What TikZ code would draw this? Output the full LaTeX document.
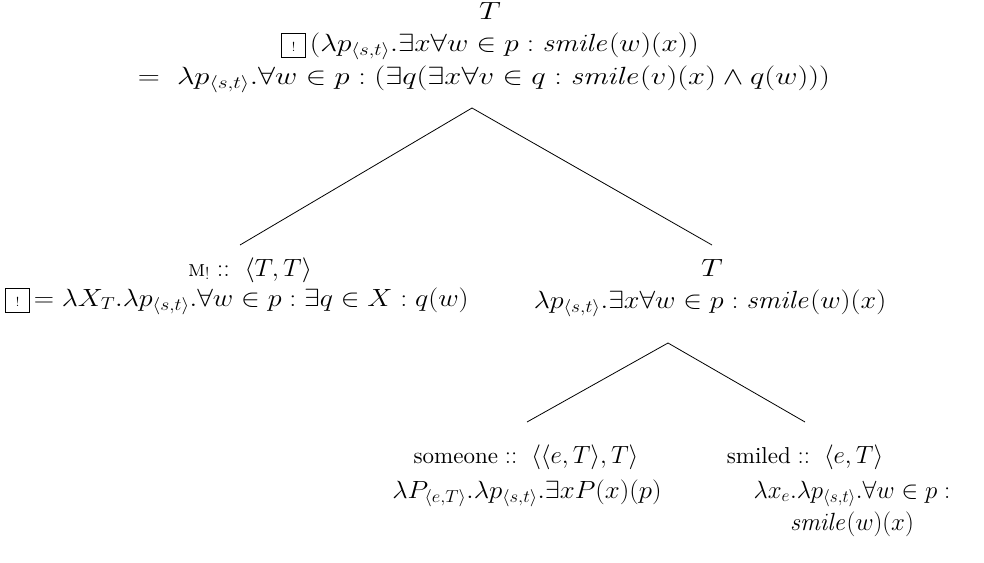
\documentclass[tikz,border=0pt]{standalone}
\usepackage{amssymb}
\usepackage{graphicx}
\newcommand\bangbox{{\setlength\fboxsep{0pt}\setlength\fboxrule{0.9pt}\fbox{\makebox[23pt]{\rule[-6pt]{0pt}{23pt}\fontsize{13}{13}\selectfont !}}}}
\newcommand\mst[2][1.23]{\scalebox{#1}[1]{$#2$}}
\newcommand\wrd[1]{\scalebox{2.3}{\fontsize{10}{12}\selectfont #1}}
\begin{document}
\begin{tikzpicture}[x=1pt,y=-1pt,
  lbl/.style={font=\fontsize{23}{27}\selectfont, inner sep=0pt, anchor=base},
  branch/.style={line width=0.8pt}]
\useasboundingbox (0,0) rectangle (984,562);
% root
\node[lbl] (rootT) at (490,19) {\mst{T}};
\node[lbl] (root2) at (490,51) {\bangbox\,\mst[1.18]{(\lambda p_{\langle s,t\rangle}.\exists x\forall w\in p:\mathit{smile}(w)(x))}};
\node[lbl] (root3) at (484,84) {\mst{=\ \lambda p_{\langle s,t\rangle}.\forall w\in p:(\exists q(\exists x\forall v\in q:\mathit{smile}(v)(x)\wedge q(w)))}};
% left child
\node[lbl] (mtype) at (250,276) {\wrd{\textsc{m}}$_{!}$ \mst[1.05]{::\ \langle T,T\rangle}};
\node[lbl,anchor=base west] (mden) at (5,306) {\bangbox\,\mst[1.13]{=\lambda X_T.\lambda p_{\langle s,t\rangle}.\forall w\in p:\exists q\in X:q(w)}};
% right child
\node[lbl] (rT) at (712,276) {\mst{T}};
\node[lbl] (rden) at (710,308) {\mst[1.13]{\lambda p_{\langle s,t\rangle}.\exists x\forall w\in p:\mathit{smile}(w)(x)}};
% someone
\node[lbl] (sotype) at (526,463) {\wrd{someone} \mst[1.0]{::\ \langle\langle e,T\rangle,T\rangle}};
\node[lbl] (soden) at (527,498) {\mst[1.08]{\lambda P_{\langle e,T\rangle}.\lambda p_{\langle s,t\rangle}.\exists xP(x)(p)}};
% smiled
\node[lbl] (smtype) at (805,463) {\wrd{smiled} \mst[1.0]{::\ \langle e,T\rangle}};
\node[lbl] (smden1) at (852,498) {\mst[1.0]{\lambda x_e.\lambda p_{\langle s,t\rangle}.\forall w\in p:}};
\node[lbl] (smden2) at (852,530) {\mst[1.0]{\mathit{smile}(w)(x)}};
% branches
\draw[branch] ([xshift=-12pt,yshift=-24pt]root3.base) -- ([xshift=-10pt,yshift=31pt]mtype.base);
\draw[branch] ([xshift=-12pt,yshift=-24pt]root3.base) -- ([yshift=31pt]rT.base);
\draw[branch] ([xshift=-42pt,yshift=-35pt]rden.base) -- ([xshift=1pt,yshift=41pt]sotype.base);
\draw[branch] ([xshift=-42pt,yshift=-35pt]rden.base) -- ([yshift=41pt]smtype.base);
\end{tikzpicture}
\end{document}
